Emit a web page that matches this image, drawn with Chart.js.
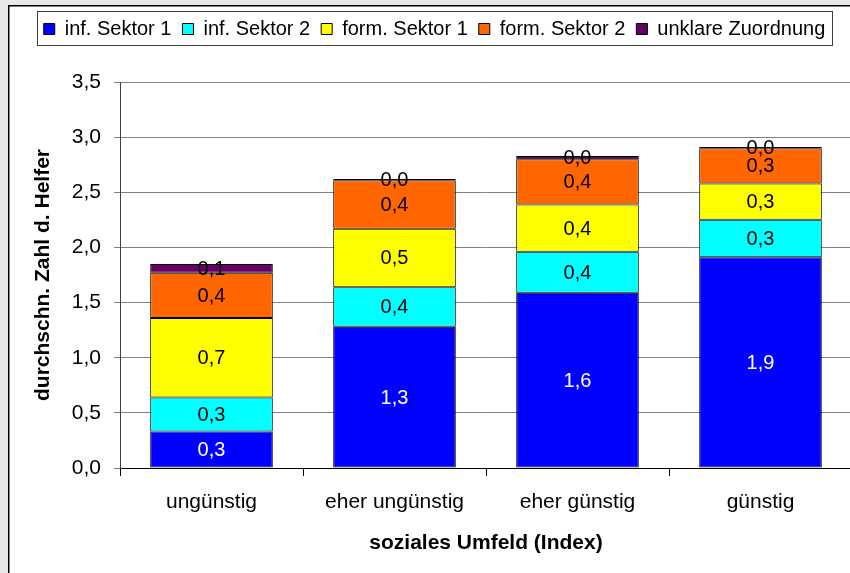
<!DOCTYPE html>
<html>
<head>
<meta charset="utf-8">
<script src="https://cdn.jsdelivr.net/npm/chart.js@4.4.1/dist/chart.umd.min.js"></script>
<style>
  html, body { margin: 0; padding: 0; background: #e8e8e8; overflow: hidden; }
  #wrap { position: absolute; left: 0; top: 0; width: 860px; height: 573px; }
</style>
</head>
<body>
<div id="wrap"><canvas id="chart" width="860" height="573"></canvas></div>
<script>
// Categories: social environment index
const categories = ['ungünstig', 'eher ungünstig', 'eher günstig', 'günstig'];

// Average number of helpers per sector
const infSektor1 = [0.33, 1.28, 1.59, 1.91];
const infSektor2 = [0.31, 0.36, 0.37, 0.34];
const formSektor1 = [0.72, 0.53, 0.43, 0.33];
const formSektor2 = [0.41, 0.44, 0.41, 0.32];
const unklareZuordnung = [0.08, 0.01, 0.03, 0.01];

const seriesNames = ['inf. Sektor 1', 'inf. Sektor 2', 'form. Sektor 1', 'form. Sektor 2', 'unklare Zuordnung'];
const seriesValues = [infSektor1, infSektor2, formSektor1, formSektor2, unklareZuordnung];
const seriesColors = ['#0000FF', '#00FFFF', '#FFFF00', '#FF6600', '#660066'];
const labelColors = ['#FFFFFF', '#000000', '#000000', '#000000', '#000000'];

const FONT = '"Liberation Sans", Arial, sans-serif';

const fmt = v => v.toFixed(1).replace('.', ',');

// Grey frame with white panel, plus a box around the legend
const framePlugin = {
  id: 'frame',
  beforeDraw(chart) {
    const ctx = chart.ctx;
    ctx.save();
    ctx.fillStyle = '#e8e8e8';
    ctx.fillRect(0, 0, chart.width, chart.height);
    ctx.fillStyle = '#ffffff';
    ctx.fillRect(9, 6, chart.width - 9, chart.height - 6);
    ctx.strokeStyle = '#000000';
    ctx.lineWidth = 1.5;
    ctx.beginPath();
    ctx.moveTo(8.75, chart.height);
    ctx.lineTo(8.75, 5.75);
    ctx.lineTo(chart.width, 5.75);
    ctx.stroke();
    ctx.restore();
  },
  afterDraw(chart) {
    const boxes = chart.legend && chart.legend.legendHitBoxes;
    if (!boxes || !boxes.length) return;
    let l = Infinity, r = -Infinity;
    boxes.forEach(h => {
      l = Math.min(l, h.left);
      r = Math.max(r, h.left + h.width);
    });
    const ctx = chart.ctx;
    ctx.save();
    ctx.strokeStyle = '#404040';
    ctx.lineWidth = 1;
    ctx.strokeRect(Math.round(l - 7) + 0.5, 11.5, Math.round(r - l + 13), 34);
    ctx.restore();
  }
};

// Value labels centred in each segment
const valueLabels = {
  id: 'valueLabels',
  afterDatasetsDraw(chart) {
    const ctx = chart.ctx;
    ctx.save();
    ctx.font = '20px ' + FONT;
    ctx.textAlign = 'center';
    ctx.textBaseline = 'middle';
    chart.data.datasets.forEach((ds, i) => {
      const meta = chart.getDatasetMeta(i);
      meta.data.forEach((el, j) => {
        const p = el.getProps(['x', 'y', 'base'], true);
        ctx.fillStyle = labelColors[i];
        ctx.fillText(fmt(ds.data[j]), p.x, (p.y + p.base) / 2 + 1);
      });
    });
    ctx.restore();
  }
};

new Chart(document.getElementById('chart'), {
  type: 'bar',
  data: {
    labels: categories,
    datasets: seriesNames.map((name, i) => ({
      label: name,
      data: seriesValues[i],
      backgroundColor: seriesColors[i],
      borderColor: '#000000',
      borderWidth: 1,
      borderSkipped: false,
      categoryPercentage: 1.0,
      barPercentage: 0.67
    }))
  },
  options: {
    responsive: false,
    animation: false,
    devicePixelRatio: 1,
    layout: { padding: { left: 17, right: 8, top: 8, bottom: 0 } },
    plugins: {
      legend: {
        position: 'top',
        weight: 1000,
        labels: {
          boxWidth: 11,
          boxHeight: 11,
          padding: 11,
          color: '#000000',
          font: { family: FONT, size: 20 }
        }
      },
      // empty spacer between legend and plot area
      title: {
        display: true,
        text: '',
        weight: 500,
        font: { size: 10, lineHeight: 1.2 },
        padding: { top: 10, bottom: 11 }
      },
      tooltip: { enabled: false }
    },
    scales: {
      x: {
        stacked: true,
        grid: {
          drawOnChartArea: false,
          drawTicks: true,
          tickLength: 8,
          color: '#000000',
          offset: true
        },
        border: { display: true, color: '#000000', width: 1 },
        ticks: {
          color: '#000000',
          padding: 14,
          font: { family: FONT, size: 21 }
        },
        title: {
          display: true,
          text: 'soziales Umfeld (Index)',
          color: '#000000',
          font: { family: FONT, size: 21, weight: 'bold' },
          padding: { top: 0, bottom: 17 }
        },
        afterFit(scale) { scale.height = 105; }
      },
      y: {
        stacked: true,
        min: 0,
        max: 3.5,
        ticks: {
          stepSize: 0.5,
          color: '#000000',
          padding: 13,
          font: { family: FONT, size: 21 },
          callback: v => fmt(v)
        },
        grid: {
          color: '#808080',
          tickLength: 6,
          drawTicks: true
        },
        border: { display: true, color: '#404040', width: 1 },
        title: {
          display: true,
          text: 'durchschn. Zahl d. Helfer',
          color: '#000000',
          font: { family: FONT, size: 21, weight: 'bold' },
          padding: { top: 14, bottom: 0 }
        },
        afterFit(scale) { scale.width = 103; }
      }
    }
  },
  plugins: [framePlugin, valueLabels]
});
</script>
</body>
</html>
